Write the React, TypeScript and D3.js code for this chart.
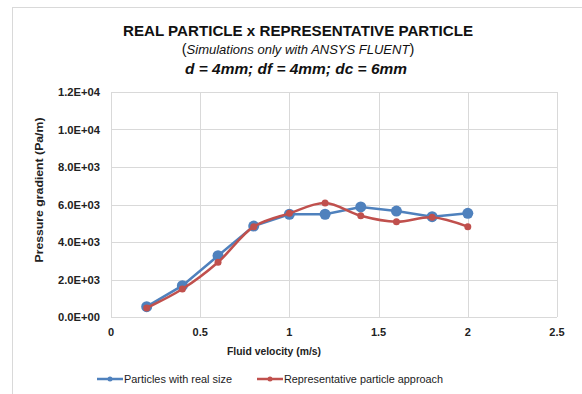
import React, { useEffect, useRef } from 'react';
import * as d3 from 'd3';

const velocities = [0.2, 0.4, 0.6, 0.8, 1.0, 1.2, 1.4, 1.6, 1.8, 2.0];
const realSize = [550, 1670, 3270, 4850, 5480, 5480, 5870, 5650, 5350, 5530];
const representative = [480, 1490, 2920, 4820, 5530, 6080, 5400, 5080, 5320, 4820];
const xTicks = [0, 0.5, 1, 1.5, 2, 2.5];
const yTicks = [0, 2000, 4000, 6000, 8000, 10000, 12000];
const seriesNames = ['Particles with real size', 'Representative particle approach'];

const width = 582;
const height = 394;
const BLUE = '#4f81bd';
const RED = '#c0504d';
const GRID = '#d9d9d9';
const FONT = '"Liberation Sans", Arial, sans-serif';

const fmtSci = (v: number) => {
  const e = v === 0 ? 0 : Math.floor(Math.log10(v));
  const m = v / Math.pow(10, e);
  const sign = e < 0 ? '-' : '+';
  return `${m.toFixed(1)}E${sign}${String(Math.abs(e)).padStart(2, '0')}`;
};

export default function App() {
  const svgRef = useRef<SVGSVGElement>(null);

  useEffect(() => {
    if (!svgRef.current) return;
    const svg = d3.select(svgRef.current);
    svg.selectAll('*').remove();

    const margin = { top: 92, right: 25, bottom: 77, left: 111 };
    const w = width - margin.left - margin.right;
    const h = height - margin.top - margin.bottom;

    svg.append('rect').attr('width', width).attr('height', height).attr('fill', '#fff');
    // outer chart border
    svg.append('rect')
      .attr('x', 12.5).attr('y', 7.5)
      .attr('width', width).attr('height', height)
      .attr('fill', 'none').attr('stroke', GRID);

    const x = d3.scaleLinear().domain([0, 2.5]).range([0, w]);
    const y = d3.scaleLinear().domain([0, 12000]).range([h, 0]);

    const g = svg.append('g').attr('transform', `translate(${margin.left},${margin.top})`);

    // gridlines
    g.selectAll('.hgrid').data(yTicks).enter().append('line')
      .attr('x1', 0).attr('x2', w)
      .attr('y1', d => Math.round(y(d)) + 0.5).attr('y2', d => Math.round(y(d)) + 0.5)
      .attr('stroke', GRID);
    g.selectAll('.vgrid').data(xTicks).enter().append('line')
      .attr('y1', 0).attr('y2', h)
      .attr('x1', d => Math.round(x(d)) + 0.5).attr('x2', d => Math.round(x(d)) + 0.5)
      .attr('stroke', GRID);

    // tick labels
    g.selectAll('.ylab').data(yTicks).enter().append('text')
      .attr('x', -11).attr('y', d => y(d) + 4)
      .attr('text-anchor', 'end')
      .attr('textLength', 42).attr('lengthAdjust', 'spacingAndGlyphs')
      .style('font', `bold 10.5px ${FONT}`).attr('fill', '#222')
      .text(d => fmtSci(d));
    g.selectAll('.xlab').data(xTicks).enter().append('text')
      .attr('x', d => x(d)).attr('y', h + 19)
      .attr('text-anchor', 'middle')
      .style('font', `bold 11px ${FONT}`).attr('fill', '#222')
      .text(d => String(d));

    // axis titles
    svg.append('text')
      .attr('transform', `translate(43,${margin.top + 98}) rotate(-90)`)
      .attr('text-anchor', 'middle')
      .attr('textLength', 145).attr('lengthAdjust', 'spacingAndGlyphs')
      .style('font', `bold 11px ${FONT}`).attr('fill', '#222')
      .text('Pressure gradient (Pa/m)');
    svg.append('text')
      .attr('x', 274).attr('y', 355)
      .attr('text-anchor', 'middle')
      .attr('textLength', 94).attr('lengthAdjust', 'spacingAndGlyphs')
      .style('font', `bold 11px ${FONT}`).attr('fill', '#222')
      .text('Fluid velocity (m/s)');

    const blueData = velocities.map((v, i) => [v, realSize[i]] as [number, number]);
    const redData = velocities.map((v, i) => [v, representative[i]] as [number, number]);

    const straight = d3.line<[number, number]>().x(d => x(d[0])).y(d => y(d[1]));
    const smooth = d3.line<[number, number]>().x(d => x(d[0])).y(d => y(d[1])).curve(d3.curveCatmullRom.alpha(0.5));

    g.append('path').datum(blueData).attr('d', straight)
      .attr('fill', 'none').attr('stroke', BLUE).attr('stroke-width', 2.5);
    g.selectAll('.bdot').data(blueData).enter().append('circle')
      .attr('cx', d => x(d[0])).attr('cy', d => y(d[1])).attr('r', 5.5)
      .attr('fill', BLUE);

    g.append('path').datum(redData).attr('d', smooth)
      .attr('fill', 'none').attr('stroke', RED).attr('stroke-width', 2.5);
    g.selectAll('.rdot').data(redData).enter().append('circle')
      .attr('cx', d => x(d[0])).attr('cy', d => y(d[1])).attr('r', 3.5)
      .attr('fill', RED);

    // titles
    svg.append('text')
      .attr('x', 298).attr('y', 36).attr('text-anchor', 'middle')
      .attr('textLength', 350).attr('lengthAdjust', 'spacingAndGlyphs')
      .style('font', `bold 15.5px ${FONT}`).attr('fill', '#111')
      .text('REAL PARTICLE x REPRESENTATIVE PARTICLE');
    const sub = svg.append('text')
      .attr('x', 298).attr('y', 54).attr('text-anchor', 'middle')
      .style('font', `13px ${FONT}`).attr('fill', '#111');
    sub.append('tspan').style('font-size', '14.5px').text('(');
    sub.append('tspan').style('font-style', 'italic').text('Simulations only with ANSYS FLUENT');
    sub.append('tspan').style('font-size', '14.5px').text(')');
    svg.append('text')
      .attr('x', 296).attr('y', 74).attr('text-anchor', 'middle')
      .attr('textLength', 222).attr('lengthAdjust', 'spacingAndGlyphs')
      .style('font', `italic bold 15px ${FONT}`).attr('fill', '#111')
      .text('d = 4mm; df = 4mm; dc = 6mm');

    // legend
    const legend = [
      { name: seriesNames[0], color: BLUE, x0: 97, len: 108 },
      { name: seriesNames[1], color: RED, x0: 257, len: 159 },
    ];
    const lg = svg.selectAll('.leg').data(legend).enter().append('g')
      .attr('transform', d => `translate(${d.x0},379)`);
    lg.append('line').attr('x1', 0).attr('x2', 26).attr('y1', 0).attr('y2', 0)
      .attr('stroke', d => d.color).attr('stroke-width', 2.5);
    lg.append('circle').attr('cx', 13).attr('cy', 0).attr('r', 2.5).attr('fill', d => d.color);
    lg.append('text').attr('x', 27).attr('y', 4)
      .attr('textLength', d => d.len).attr('lengthAdjust', 'spacingAndGlyphs')
      .style('font', `11px ${FONT}`).attr('fill', '#222')
      .text(d => d.name);
  }, []);

  return (
    <svg ref={svgRef} width={width} height={height}
      style={{ position: 'absolute', left: 0, top: 0, display: 'block' }} />
  );
}
